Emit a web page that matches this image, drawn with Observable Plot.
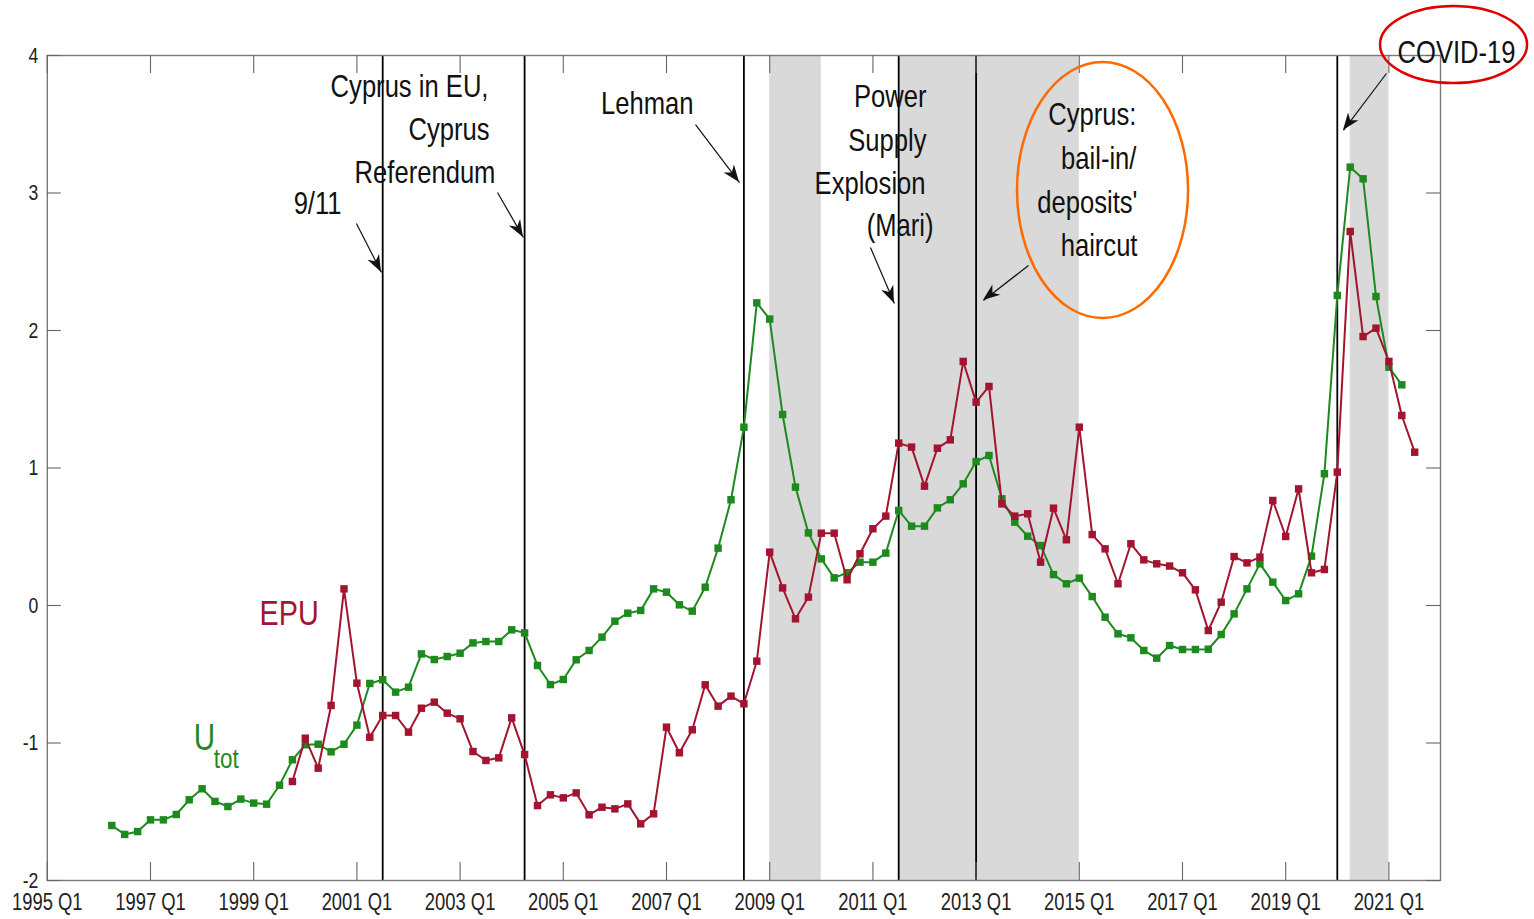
<!DOCTYPE html>
<html>
<head>
<meta charset="utf-8">
<script src="https://cdn.jsdelivr.net/npm/d3@7"></script>
<script src="https://cdn.jsdelivr.net/npm/@observablehq/plot@0.6"></script>
<style>
  html, body { margin: 0; padding: 0; background: #fff; }
  #chart svg { display: block; }
</style>
</head>
<body>
<div id="chart"></div>
<script>
// ---------------- DATA ----------------
const xTickLabels = ["1995 Q1","1997 Q1","1999 Q1","2001 Q1","2003 Q1","2005 Q1","2007 Q1",
  "2009 Q1","2011 Q1","2013 Q1","2015 Q1","2017 Q1","2019 Q1","2021 Q1"];
const yTickValues = [-2, -1, 0, 1, 2, 3, 4];

// U_tot (green), quarterly from 1996 Q2
const uTotFirstQuarter = "1996 Q2";
const uTotValues = [
  -1.60, -1.665, -1.644, -1.559, -1.559, -1.52, -1.413, -1.333, -1.425, -1.462,
  -1.408, -1.437, -1.445, -1.307, -1.122, -1.013, -1.009, -1.064, -1.009, -0.870,
  -0.567, -0.54, -0.63, -0.594, -0.352, -0.393, -0.371, -0.347, -0.272, -0.262,
  -0.262, -0.177, -0.199, -0.436, -0.575, -0.538, -0.395, -0.327, -0.230, -0.114,
  -0.056, -0.036, 0.121, 0.097, 0.005, -0.041, 0.133, 0.417, 0.769, 1.297,
  2.201, 2.083, 1.389, 0.861, 0.528, 0.339, 0.201, 0.238, 0.315, 0.315,
  0.381, 0.691, 0.577, 0.577, 0.710, 0.769, 0.885, 1.047, 1.091, 0.776,
  0.606, 0.504, 0.436, 0.225, 0.158, 0.199, 0.065, -0.085, -0.206, -0.235,
  -0.327, -0.383, -0.291, -0.320, -0.320, -0.318, -0.211, -0.061, 0.121, 0.303,
  0.170, 0.036, 0.085, 0.359, 0.958, 2.255, 3.188, 3.103, 2.247, 1.733,
  1.605
];

// EPU (crimson), quarterly from 1999 Q4
const epuFirstQuarter = "1999 Q4";
const epuValues = [
  -1.28, -0.965, -1.183, -0.727, 0.121, -0.565, -0.958, -0.80, -0.80, -0.921,
  -0.747, -0.703, -0.783, -0.824, -1.062, -1.127, -1.108, -0.817, -1.084, -1.455,
  -1.377, -1.399, -1.363, -1.522, -1.467, -1.479, -1.443, -1.588, -1.515, -0.885,
  -1.071, -0.904, -0.577, -0.732, -0.659, -0.715, -0.405, 0.388, 0.128, -0.097,
  0.061, 0.526, 0.526, 0.187, 0.376, 0.558, 0.650, 1.181, 1.152, 0.868,
  1.144, 1.205, 1.775, 1.479, 1.593, 0.739, 0.650, 0.667, 0.315, 0.708,
  0.478, 1.297, 0.516, 0.412, 0.158, 0.449, 0.332, 0.303, 0.287, 0.238,
  0.114, -0.182, 0.024, 0.356, 0.310, 0.352, 0.764, 0.502, 0.848, 0.238,
  0.262, 0.970, 2.72, 1.956, 2.017, 1.775, 1.382, 1.115
];

// Event lines and shaded periods
const eventQuarters = ["2001 Q3", "2004 Q2", "2008 Q3", "2011 Q3", "2013 Q1", "2020 Q1"];
const shadeStart = ["2009 Q1", "2011 Q3", "2020 Q2"];
const shadeEnd   = ["2010 Q1", "2015 Q1", "2021 Q1"];

// Annotation texts (one entry per line)
const annotationLines = ["Cyprus in EU,", "Cyprus", "Referendum", "9/11", "Lehman",
  "Power", "Supply", "Explosion", "(Mari)", "Cyprus:", "bail-in/", "deposits'", "haircut", "COVID-19"];
const seriesNames = ["EPU", "U", "tot"];

// ---------------- HELPERS ----------------
const qIndex = s => { const [y, q] = s.split(" Q"); return (+y - 1995) * 4 + (+q - 1); };
const series = (first, vals) => vals.map((v, i) => ({q: qIndex(first) + i, v}));
const uTot = series(uTotFirstQuarter, uTotValues);
const epu = series(epuFirstQuarter, epuValues);
const xTicks = xTickLabels.map(qIndex);
const shades = shadeStart.map((s, i) => ({x1: qIndex(s), x2: qIndex(shadeEnd[i])}));
const events = eventQuarters.map(qIndex);

// layout of annotation lines (x = quarter index of right end, y = baseline value)
const annotPos = [
  [34.2, 3.695], [34.28, 3.382], [34.74, 3.076], [22.81, 2.844], [50.09, 3.571],
  [68.15, 3.622], [68.15, 3.309], [68.08, 2.996], [68.70, 2.684],
  [84.43, 3.491], [84.43, 3.178], [84.51, 2.858], [84.51, 2.545], [113.82, 3.942]
];
const annots = annotationLines.map((t, i) => ({text: t, x: annotPos[i][0], y: annotPos[i][1]}));
const arrows = [
  {x1: 23.96, y1: 2.778, x2: 25.91, y2: 2.422},
  {x1: 34.90, y1: 3.004, x2: 36.91, y2: 2.676},
  {x1: 50.25, y1: 3.498, x2: 53.66, y2: 3.076},
  {x1: 63.81, y1: 2.604, x2: 65.67, y2: 2.196},
  {x1: 76.06, y1: 2.473, x2: 72.57, y2: 2.218},
  {x1: 103.81, y1: 3.869, x2: 100.48, y2: 3.455}
];

const GREEN = "#1d8a1d";
const RED = "#a2142f";
const FONT = "'Liberation Sans', Arial, sans-serif";
const CONDENSE = 0.8;

const plot = Plot.plot({
  width: 1534,
  height: 919,
  marginLeft: 46.8,
  marginRight: 94,
  marginTop: 55,
  marginBottom: 39,
  x: {domain: [0, 108], axis: null},
  y: {domain: [-2, 4], axis: null},
  style: {fontFamily: FONT, fontSize: "22px", color: "#222", background: "#fff", overflow: "visible"},
  marks: [
    Plot.rect(shades, {x1: "x1", x2: "x2", y1: -2, y2: 4, fill: "#d9d9d9"}),
    Plot.ruleX(events, {stroke: "#000", strokeWidth: 1.8}),
    Plot.frame({stroke: "#7a7a7a", strokeWidth: 1.4}),
    // inward ticks
    Plot.ruleX(xTicks, {y1: -2, y2: -2 + 18 / 137.5, stroke: "#666", strokeWidth: 1.1}),
    Plot.ruleX(xTicks, {y1: 4, y2: 4 - 18 / 137.5, stroke: "#666", strokeWidth: 1.1}),
    Plot.ruleY(yTickValues, {x1: 0, x2: 14 / 12.9, stroke: "#666", strokeWidth: 1.1}),
    Plot.ruleY(yTickValues, {x1: 108, x2: 108 - 14 / 12.9, stroke: "#666", strokeWidth: 1.1}),
    Plot.axisX({ticks: xTicks, tickFormat: d => xTickLabels[xTicks.indexOf(d)], tickSize: 0, tickPadding: 13, fontSize: 23}),
    Plot.axisY({ticks: yTickValues, tickFormat: d => String(d), tickSize: 0, tickPadding: 9, fontSize: 22}),
    // series
    Plot.line(uTot, {x: "q", y: "v", stroke: GREEN, strokeWidth: 2}),
    Plot.dot(uTot, {x: "q", y: "v", symbol: "square", r: 4.2, fill: GREEN}),
    Plot.line(epu, {x: "q", y: "v", stroke: RED, strokeWidth: 2}),
    Plot.dot(epu, {x: "q", y: "v", symbol: "square", r: 4.2, fill: RED}),
    // series labels
    Plot.text([seriesNames[0]], {x: 16.45, y: -0.145, text: d => d, fill: RED, fontSize: 36, textAnchor: "start", lineAnchor: "bottom"}),
    Plot.text([seriesNames[1]], {x: 11.35, y: -1.05, text: d => d, fill: GREEN, fontSize: 37, textAnchor: "start", lineAnchor: "bottom"}),
    Plot.text([seriesNames[2]], {x: 12.9, y: -1.18, text: d => d, fill: GREEN, fontSize: 28, textAnchor: "start", lineAnchor: "bottom"}),
    // annotations
    Plot.text(annots, {x: "x", y: "y", text: "text", textAnchor: "end", lineAnchor: "bottom", fontSize: 32, fill: "#111"}),
    Plot.link(arrows, {x1: "x1", y1: "y1", x2: "x2", y2: "y2", stroke: "#111", strokeWidth: 1.2})
  ]
});

const svg = d3.select(plot);

// condense all text horizontally around its anchor (narrow, MATLAB-like lettering)
svg.selectAll("text").each(function() {
  const t = this.getAttribute("transform");
  if (t) {
    this.setAttribute("transform", t + ` scale(${CONDENSE},1)`);
  } else {
    const x = +(this.getAttribute("x") || 0), y = +(this.getAttribute("y") || 0);
    this.removeAttribute("x"); this.removeAttribute("y");
    this.setAttribute("transform", `translate(${x},${y}) scale(${CONDENSE},1)`);
  }
});

const sx = plot.scale("x"), sy = plot.scale("y");

// filled arrow heads at the tips of the arrows
for (const a of arrows) {
  const x1 = sx.apply(a.x1), y1 = sy.apply(a.y1), x2 = sx.apply(a.x2), y2 = sy.apply(a.y2);
  const ang = Math.atan2(y2 - y1, x2 - x1);
  const L = 17, W = 6.5, N = 12;
  const c = Math.cos(ang), s = Math.sin(ang);
  const pt = (u, v) => [x2 + u * c - v * s, y2 + u * s + v * c];
  const pts = [pt(0, 0), pt(-L, -W), pt(-N, 0), pt(-L, W)];
  svg.append("path")
    .attr("d", "M" + pts.map(p => p.join(",")).join("L") + "Z")
    .attr("fill", "#111");
}

// highlight ellipses positioned through the plot's scales
const ellipses = [
  {cx: 81.84, cy: 3.018, rx: 6.63, ry: 0.931, stroke: "#ff6a00"},
  {cx: 109.05, cy: 4.076, rx: 5.70, ry: 0.28, stroke: "#e00000"}
];
for (const e of ellipses) {
  const cx = sx.apply(e.cx), cy = sy.apply(e.cy);
  svg.append("ellipse")
    .attr("cx", cx).attr("cy", cy)
    .attr("rx", sx.apply(e.cx + e.rx) - cx)
    .attr("ry", cy - sy.apply(e.cy + e.ry))
    .attr("fill", "none").attr("stroke", e.stroke).attr("stroke-width", 2.5);
}

document.getElementById("chart").appendChild(plot);
</script>
</body>
</html>
